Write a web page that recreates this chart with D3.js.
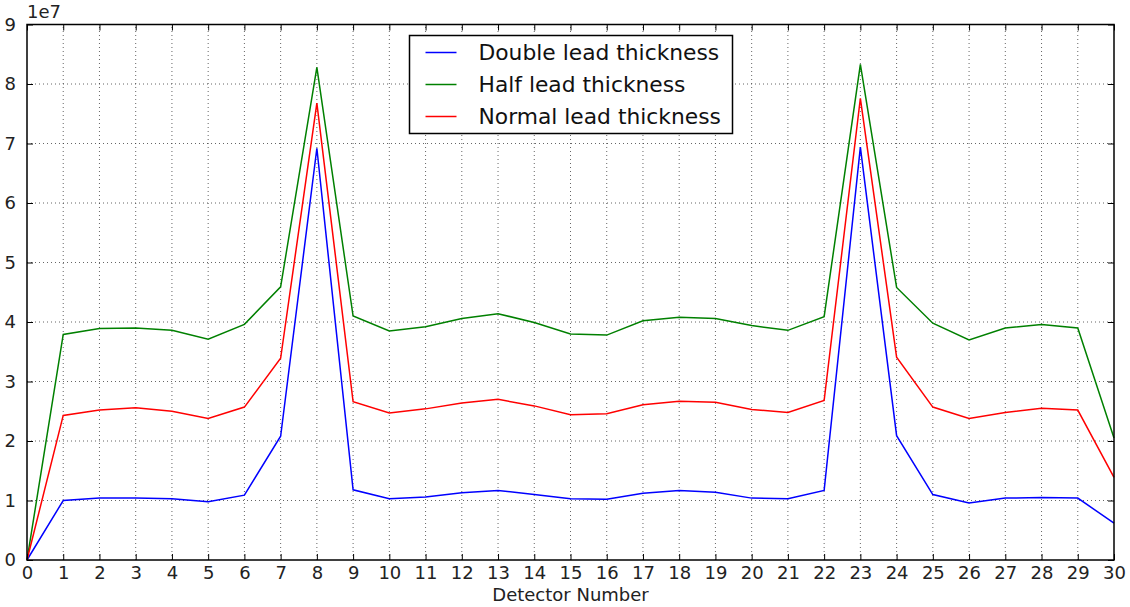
<!DOCTYPE html>
<html>
<head>
<meta charset="utf-8">
<script src="https://cdn.jsdelivr.net/npm/d3@7"></script>
<style>
  html, body { margin: 0; padding: 0; background: #fff; }
  svg { display: block; font-family: "DejaVu Sans", sans-serif; }
</style>
</head>
<body>
<svg id="chart" width="1130" height="607"></svg>
<script>
// Detector readings (counts, in units of 1e7) for three lead shield thicknesses
const detectors = d3.range(0, 31);
const doubleLead = [0, 1.00, 1.04, 1.04, 1.03, 0.98, 1.09, 2.08, 6.92, 1.18,
  1.03, 1.06, 1.13, 1.17, 1.10, 1.03, 1.02, 1.12, 1.17, 1.14,
  1.04, 1.03, 1.17, 6.94, 2.09, 1.10, 0.96, 1.04, 1.05, 1.04, 0.62];
const halfLead = [0, 3.79, 3.89, 3.90, 3.86, 3.71, 3.96, 4.59, 8.28, 4.10,
  3.85, 3.92, 4.06, 4.14, 3.99, 3.80, 3.78, 4.02, 4.08, 4.06,
  3.94, 3.86, 4.09, 8.33, 4.58, 3.98, 3.70, 3.90, 3.96, 3.90, 2.05];
const normalLead = [0, 2.43, 2.52, 2.56, 2.50, 2.38, 2.57, 3.39, 7.68, 2.66,
  2.47, 2.54, 2.64, 2.70, 2.59, 2.44, 2.46, 2.61, 2.67, 2.65,
  2.53, 2.48, 2.68, 7.76, 3.41, 2.57, 2.38, 2.48, 2.55, 2.52, 1.39];
const scaleFactor = 1e7;

const seriesNames = ["Double lead thickness", "Half lead thickness", "Normal lead thickness"];
const seriesColors = ["#0000ff", "#008000", "#ff0000"];
const seriesValues = [doubleLead, halfLead, normalLead];

const xTicks = d3.range(0, 31);
const yTicks = d3.range(0, 10).map(v => v * scaleFactor);
const xLabel = "Detector Number";
const offsetLabel = "1e7";

const margin = { left: 27, right: 16, top: 24.5, bottom: 47 };
const W = 1130, H = 607;
const svg = d3.select("#chart");

const x = d3.scaleLinear().domain([0, 30]).range([margin.left, W - margin.right]);
const y = d3.scaleLinear().domain([0, 9 * scaleFactor]).range([H - margin.bottom, margin.top]);

const x0 = x.range()[0], x1 = x.range()[1];
const y0 = y.range()[0], y1 = y.range()[1];

// dotted grid
const grid = svg.append("g");
grid.selectAll(".gx").data(xTicks.slice(1, -1)).join("line")
  .attr("x1", d => x(d)).attr("x2", d => x(d))
  .attr("y1", y0).attr("y2", y1)
  .attr("stroke", "#333").attr("stroke-width", 1)
  .attr("stroke-dasharray", "1,3").attr("opacity", 0.75);
grid.selectAll(".gy").data(yTicks.slice(1, -1)).join("line")
  .attr("y1", d => y(d)).attr("y2", d => y(d))
  .attr("x1", x0).attr("x2", x1)
  .attr("stroke", "#333").attr("stroke-width", 1)
  .attr("stroke-dasharray", "1,3").attr("opacity", 0.75);

// series lines
const line = d3.line()
  .x((d, i) => x(detectors[i]))
  .y(d => y(d * scaleFactor));

svg.append("g").selectAll("path").data(seriesValues).join("path")
  .attr("d", d => line(d))
  .attr("fill", "none")
  .attr("stroke", (d, i) => seriesColors[i])
  .attr("stroke-width", 1.5)
  .attr("stroke-linejoin", "miter");

// axes with inward ticks on all four sides
const tickLen = 6;
const axisFont = "18px";

const bottomAxis = d3.axisBottom(x).tickValues(xTicks).tickFormat(d3.format("d"))
  .tickSizeInner(-tickLen).tickSizeOuter(0).tickPadding(6);
const gB = svg.append("g").attr("transform", `translate(0,${y0})`).call(bottomAxis);

const topAxis = d3.axisTop(x).tickValues(xTicks).tickFormat("")
  .tickSizeInner(-tickLen).tickSizeOuter(0);
const gT = svg.append("g").attr("transform", `translate(0,${y1})`).call(topAxis);

const leftAxis = d3.axisLeft(y).tickValues(yTicks).tickFormat(d => d3.format("d")(d / scaleFactor))
  .tickSizeInner(-tickLen).tickSizeOuter(0).tickPadding(11);
const gL = svg.append("g").attr("transform", `translate(${x0},0)`).call(leftAxis);

const rightAxis = d3.axisRight(y).tickValues(yTicks).tickFormat("")
  .tickSizeInner(-tickLen).tickSizeOuter(0);
const gR = svg.append("g").attr("transform", `translate(${x1},0)`).call(rightAxis);

[gB, gT, gL, gR].forEach(g => {
  g.select(".domain").remove();
  g.selectAll(".tick line").attr("stroke", "#000").attr("stroke-width", 1);
  g.selectAll(".tick text").attr("fill", "#222").style("font-size", axisFont)
    .style("font-family", "'DejaVu Sans', sans-serif");
});

// frame
svg.append("rect")
  .attr("x", x0).attr("y", y1)
  .attr("width", x1 - x0).attr("height", y0 - y1)
  .attr("fill", "none").attr("stroke", "#000").attr("stroke-width", 1.5);

// offset text and axis label
svg.append("text").attr("x", x0).attr("y", 18)
  .attr("fill", "#222").style("font-size", axisFont).text(offsetLabel);

svg.append("text").attr("x", (x0 + x1) / 2).attr("y", 601)
  .attr("text-anchor", "middle").attr("fill", "#222")
  .style("font-size", axisFont).text(xLabel);

// legend
const legend = svg.append("g").attr("transform", "translate(409.5,35.5)");
legend.append("rect").attr("width", 323).attr("height", 98)
  .attr("fill", "#fff").attr("stroke", "#000").attr("stroke-width", 1.5);
const rows = legend.selectAll(".row").data(seriesNames).join("g")
  .attr("transform", (d, i) => `translate(0,${17 + i * 32})`);
rows.append("line").attr("x1", 16).attr("x2", 47).attr("y1", 0).attr("y2", 0)
  .attr("stroke", (d, i) => seriesColors[i]).attr("stroke-width", 1.5);
rows.append("text").attr("x", 69).attr("y", 0).attr("dy", "0.36em")
  .attr("fill", "#111").style("font-size", "21.8px").text(d => d);
</script>
</body>
</html>
